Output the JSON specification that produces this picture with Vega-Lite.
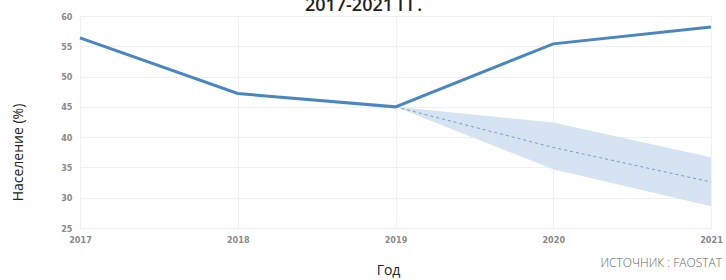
{
  "$schema": "https://vega.github.io/schema/vega-lite/v6.json",
  "width": 631,
  "height": 212,
  "autosize": {"type": "none"},
  "padding": {"left": 80, "top": 16, "right": 15, "bottom": 52},
  "background": "white",
  "title": {
    "text": "2017-2021 ГГ.",
    "font": "Open Sans",
    "fontSize": 18,
    "fontWeight": 600,
    "color": "#222222",
    "anchor": "middle",
    "frame": "group",
    "dx": -32,
    "dy": 17,
    "baseline": "alphabetic",
    "offset": 0
  },
  "datasets": {
    "actual": [
      {"year": 2017, "value": 56.4},
      {"year": 2018, "value": 47.2},
      {"year": 2019, "value": 45.0},
      {"year": 2020, "value": 55.4},
      {"year": 2021, "value": 58.2}
    ],
    "forecast": [
      {"year": 2019, "mean": 45.0, "lo": 45.0, "hi": 45.0},
      {"year": 2020, "mean": 38.3, "lo": 34.7, "hi": 42.4},
      {"year": 2021, "mean": 32.6, "lo": 28.6, "hi": 36.7}
    ],
    "note": [
      {"year": 2021, "value": 19.2, "label": "ИСТОЧНИК : FAOSTAT"}
    ]
  },
  "config": {
    "view": {"stroke": null},
    "axis": {
      "domain": false,
      "ticks": false,
      "gridColor": "#f0f0f0",
      "gridWidth": 1,
      "labelFont": "DejaVu Sans Condensed",
      "labelFontSize": 9,
      "labelFontWeight": "bold",
      "labelColor": "#8a8a8a",
      "labelOverlap": false,
      "labelFlush": false,
      "titleFont": "Open Sans",
      "titleFontSize": 14,
      "titleFontWeight": "normal",
      "titleColor": "#222222"
    },
    "axisX": {
      "labelPadding": 7,
      "titleX": 308,
      "titleY": 42,
      "titleBaseline": "middle",
      "titleAlign": "center"
    },
    "axisY": {
      "labelPadding": 8,
      "titleAngle": -90,
      "titleX": -62,
      "titleY": 136,
      "titleAlign": "center",
      "titleBaseline": "middle"
    }
  },
  "encoding": {
    "x": {
      "field": "year", "type": "quantitative", "title": "Год",
      "scale": {"domain": [2017, 2021], "nice": false, "zero": false},
      "axis": {"values": [2017, 2018, 2019, 2020, 2021], "format": "d"}
    }
  },
  "layer": [
    {
      "data": {"name": "forecast"},
      "mark": {"type": "area", "color": "#d5e3f3", "opacity": 1},
      "encoding": {
        "y": {
          "field": "lo", "type": "quantitative", "title": "Население (%)",
          "scale": {"domain": [25, 60], "nice": false, "zero": false}
        },
        "y2": {"field": "hi"}
      }
    },
    {
      "data": {"name": "forecast"},
      "mark": {"type": "line", "color": "#7f9cc2", "strokeWidth": 1, "strokeDash": [3, 3]},
      "encoding": {
        "y": {"field": "mean", "type": "quantitative", "title": "Население (%)"}
      }
    },
    {
      "data": {"name": "actual"},
      "mark": {"type": "line", "color": "#4a86bf", "strokeWidth": 3},
      "encoding": {
        "y": {"field": "value", "type": "quantitative", "title": "Население (%)"}
      }
    },
    {
      "data": {"name": "note"},
      "mark": {"type": "text", "align": "right", "baseline": "middle", "dx": 11, "clip": false, "font": "Open Sans", "fontSize": 12, "fontWeight": 300, "color": "#666666"},
      "encoding": {
        "y": {"field": "value", "type": "quantitative", "title": "Население (%)"},
        "text": {"field": "label"}
      }
    }
  ]
}
